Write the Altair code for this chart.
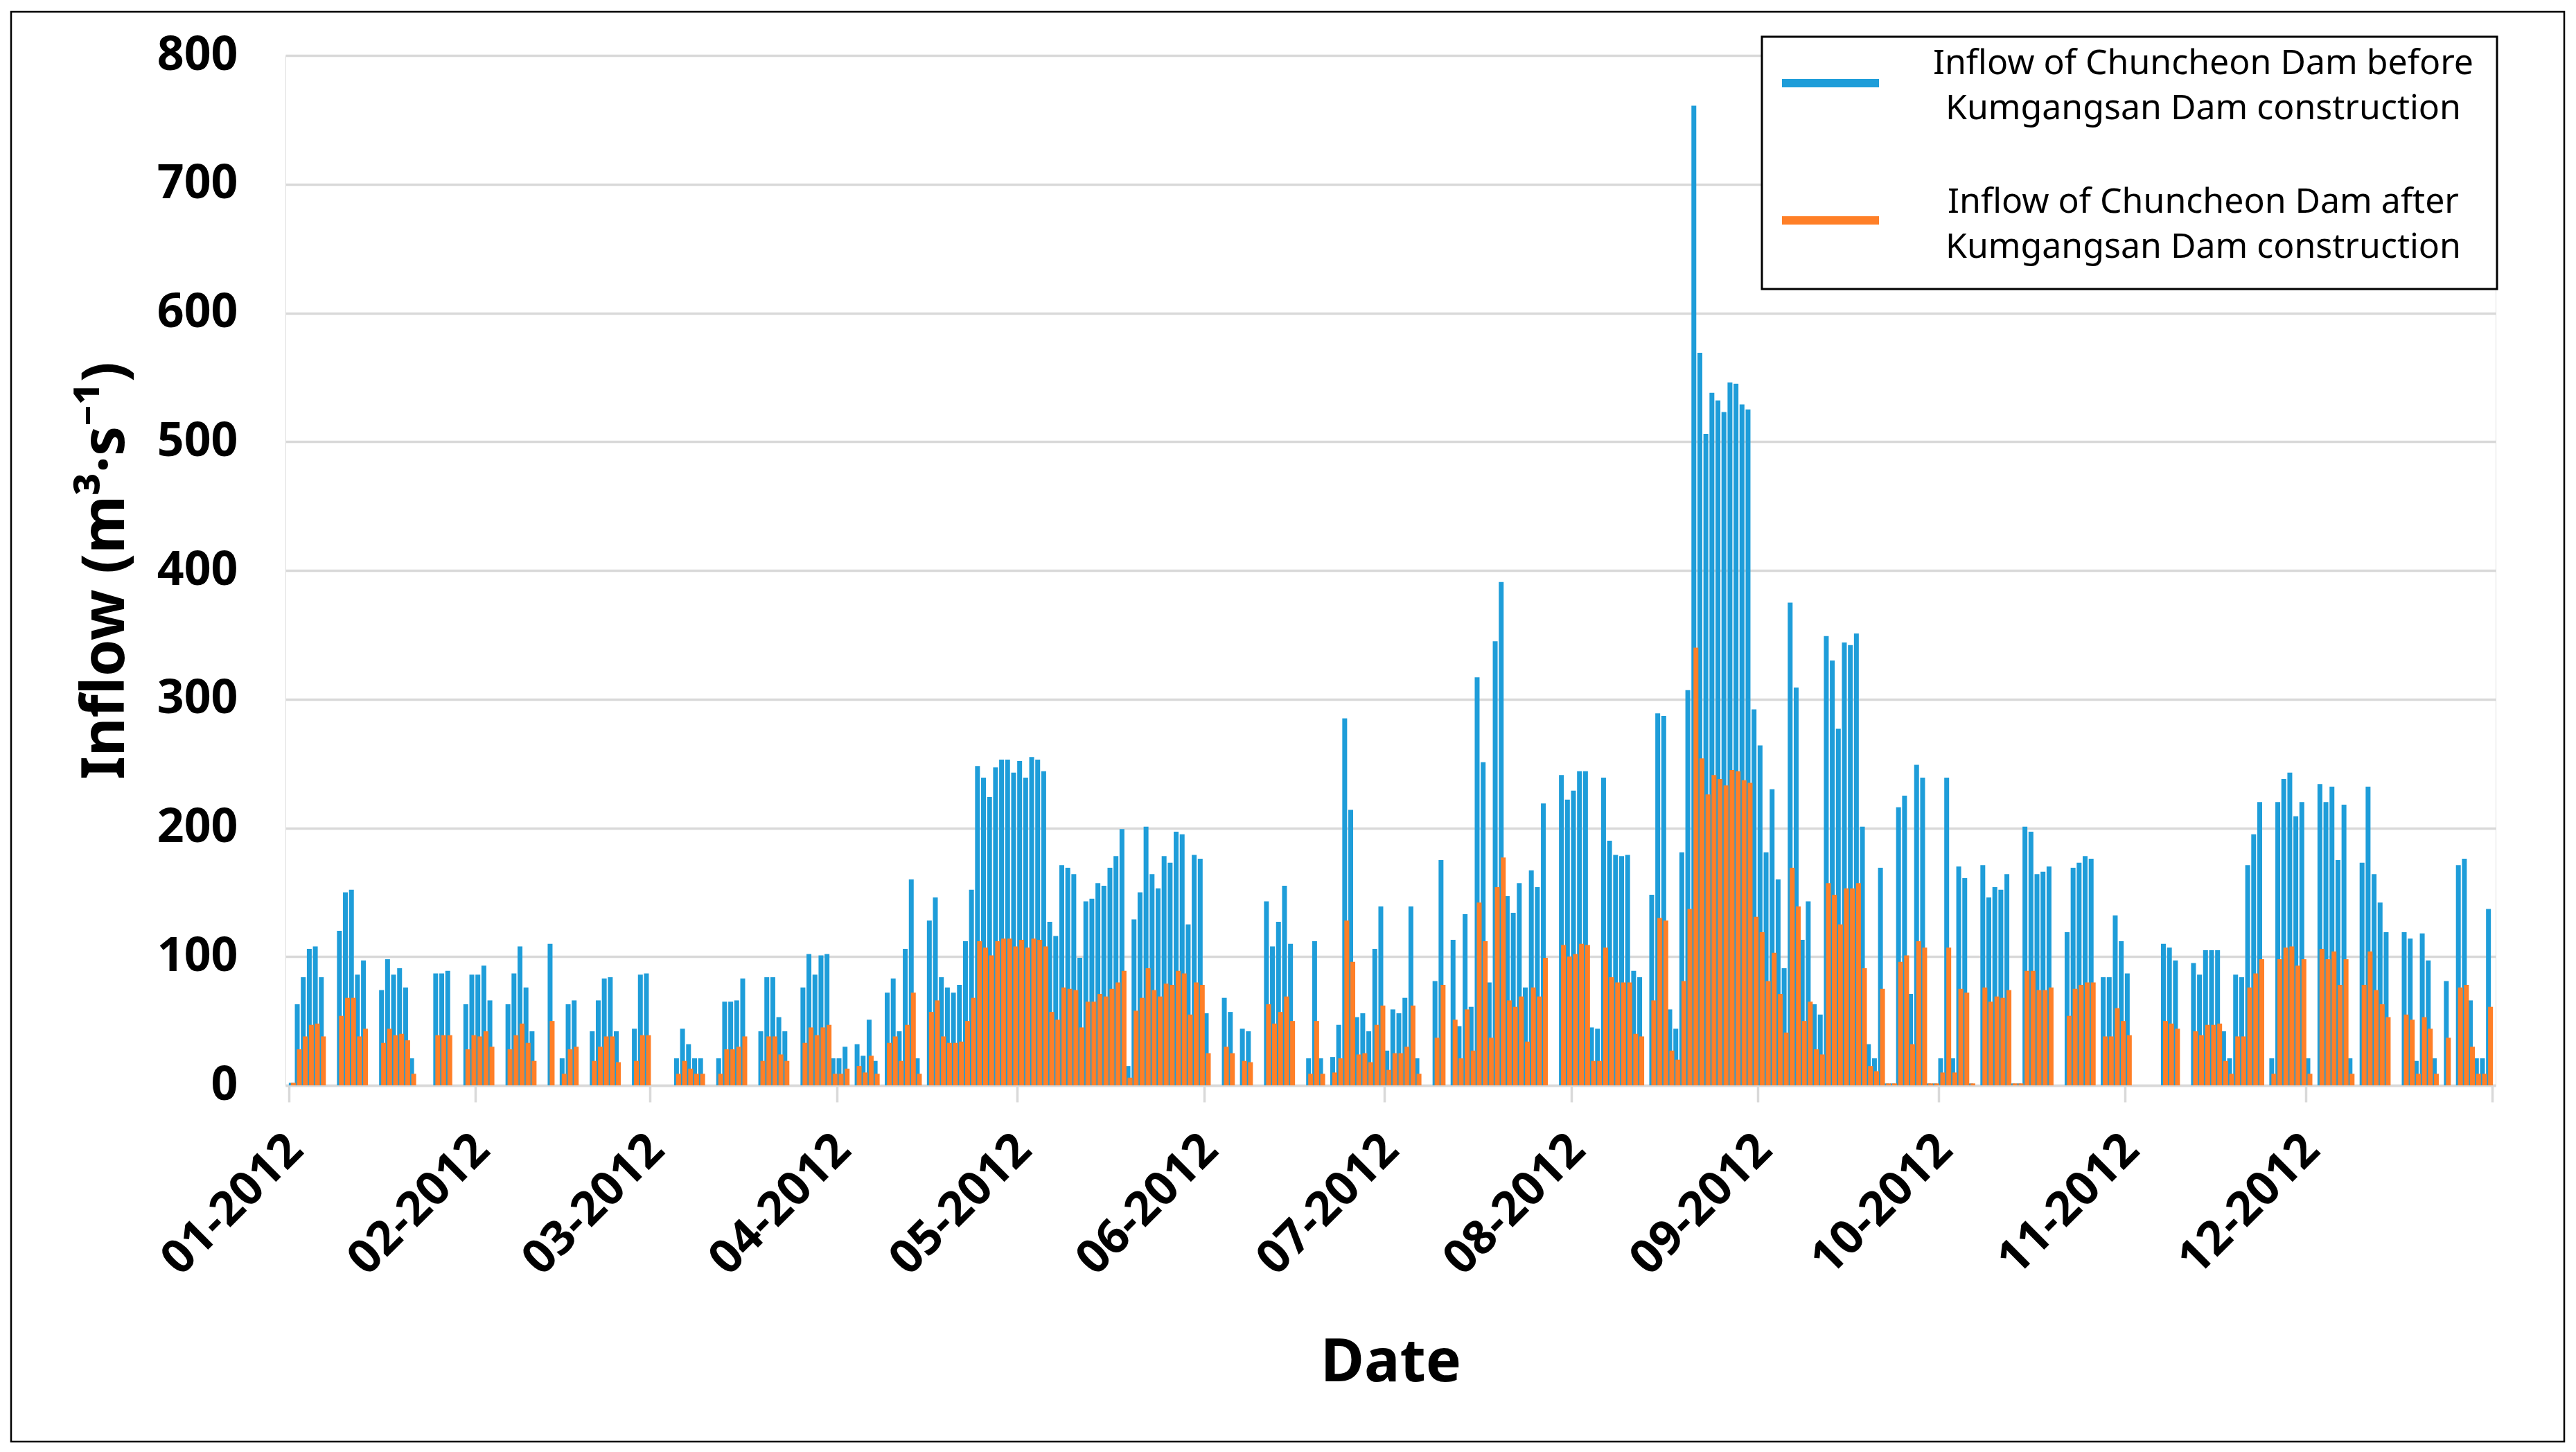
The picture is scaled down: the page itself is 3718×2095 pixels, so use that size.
import altair as alt
import pandas as pd

N = None
# Daily inflow (m3/s), 2012, before Kumgangsan Dam construction (blue)
blue_jan = [2, 63, 84, 106, 108, 84, N, N, 120, 150, 152, 86, 97, N, N, 74, 98, 86, 91, 76, 21, N, N, N, 87, 87, 89, N, N, 63, 86]
blue_feb = [86, 93, 66, N, N, 63, 87, 108, 76, 42, N, N, 110, N, 21, 63, 66, N, N, 42, 66, 83, 84, 42, N, N, 44, 86, 87]
blue_mar = [N, N, N, N, 21, 44, 32, 21, 21, N, N, 21, 65, 65, 66, 83, N, N, 42, 84, 84, 53, 42, N, N, 76, 102, 86, 101, 102, 21]
blue_apr = [21, 30, N, 32, 23, 51, 19, N, 72, 83, 42, 106, 160, 21, N, 128, 146, 84, 76, 72, 78, 112, 152, 248, 239, 224, 247, 253, 253, 243]
blue_may = [252, 239, 255, 253, 244, 127, 116, 171, 169, 164, 99, 143, 145, 157, 155, 169, 178, 199, 15, 129, 150, 201, 164, 153, 178, 173, 197, 195, 125, 179, 176]
blue_jun = [56, N, N, 68, 57, N, 44, 42, N, N, 143, 108, 127, 155, 110, N, N, 21, 112, 21, N, 22, 47, 285, 214, 53, 56, 42, 106, 139]
blue_jul = [27, 59, 56, 68, 139, 21, N, N, 81, 175, N, 113, 46, 133, 61, 317, 251, 80, 345, 391, 147, 134, 157, 76, 167, 154, 219, N, N, 241, 222]
blue_aug = [229, 244, 244, 45, 44, 239, 190, 179, 178, 179, 89, 84, N, 148, 289, 287, 59, 44, 181, 307, 761, 569, 506, 538, 532, 523, 546, 545, 529, 525, 292]
blue_sep = [264, 181, 230, 160, 91, 375, 309, 113, 143, 63, 55, 349, 330, 277, 344, 342, 351, 201, 32, 21, 169, 1.5, 1.5, 216, 225, 71, 249, 239, 1.5, 1.5]
blue_oct = [21, 239, 21, 170, 161, 1.5, N, 171, 146, 154, 152, 164, 1.5, 1.5, 201, 197, 164, 166, 170, N, N, 119, 169, 173, 178, 176, N, 84, 84, 132, 112]
blue_nov = [87, N, N, N, N, N, 110, 107, 97, N, N, 95, 86, 105, 105, 105, 42, 21, 86, 84, 171, 195, 220, N, 21, 220, 238, 243, 209, 220]
blue_dec = [21, N, 234, 220, 232, 175, 218, 21, N, 173, 232, 164, 142, 119, N, N, 119, 114, 19, 118, 97, 21, N, 81, N, 171, 176, 66, 21, 21, 137]

# Daily inflow (m3/s), 2012, after Kumgangsan Dam construction (orange)
orange_jan = [2, 28, 38, 47, 48, 38, N, N, 54, 68, 68, 38, 44, N, N, 33, 44, 39, 40, 35, 9, N, N, N, 39, 39, 39, N, N, 28, 39]
orange_feb = [38, 42, 30, N, N, 28, 39, 48, 33, 19, N, N, 50, N, 9, 28, 30, N, N, 19, 30, 38, 38, 18, N, N, 19, 39, 39]
orange_mar = [N, N, N, N, 9, 19, 13, 9, 9, N, N, 9, 28, 28, 30, 38, N, N, 19, 38, 38, 24, 19, N, N, 33, 45, 39, 45, 47, 9]
orange_apr = [9, 13, N, 15, 10, 23, 9, N, 33, 38, 19, 47, 72, 9, N, 57, 66, 38, 33, 33, 34, 50, 68, 112, 107, 101, 112, 114, 114, 108]
orange_may = [113, 107, 114, 113, 108, 57, 51, 76, 75, 74, 45, 65, 65, 71, 69, 75, 80, 89, 6, 58, 68, 91, 74, 69, 79, 78, 89, 87, 55, 80, 78]
orange_jun = [25, N, N, 30, 25, N, 19, 18, N, N, 63, 48, 57, 69, 50, N, N, 9, 50, 9, N, 10, 21, 128, 96, 24, 25, 18, 47, 62]
orange_jul = [12, 25, 25, 30, 62, 9, N, N, 37, 78, N, 51, 21, 59, 27, 142, 112, 37, 154, 177, 66, 61, 69, 34, 76, 69, 99, N, N, 109, 100]
orange_aug = [102, 110, 109, 19, 19, 107, 84, 80, 80, 80, 40, 38, N, 66, 130, 128, 27, 20, 81, 137, 340, 254, 226, 241, 238, 233, 245, 244, 237, 235, 131]
orange_sep = [119, 81, 103, 71, 41, 169, 139, 50, 65, 28, 24, 157, 148, 125, 153, 153, 157, 91, 15, 11, 75, 1.5, 1.5, 96, 101, 32, 112, 107, 1.5, 1.5]
orange_oct = [10, 107, 10, 75, 72, 1.5, N, 76, 65, 69, 68, 74, 1.5, 1.5, 89, 89, 74, 74, 76, N, N, 54, 75, 78, 80, 80, N, 38, 38, 60, 50]
orange_nov = [39, N, N, N, N, N, 50, 48, 44, N, N, 42, 39, 47, 47, 48, 19, 9, 38, 38, 76, 87, 98, N, 9, 98, 107, 108, 93, 98]
orange_dec = [9, N, 106, 98, 104, 78, 98, 9, N, 78, 104, 74, 63, 53, N, N, 55, 51, 9, 53, 44, 9, N, 37, N, 76, 78, 30, 9, 9, 61]

month_labels = ["01-2012", "02-2012", "03-2012", "04-2012", "05-2012", "06-2012",
                "07-2012", "08-2012", "09-2012", "10-2012", "11-2012", "12-2012", ""]
month_starts = [0, 31, 60, 91, 121, 152, 182, 213, 244, 274, 305, 335, 366]
y_ticks = [0, 100, 200, 300, 400, 500, 600, 700, 800]

series_before = "Inflow of Chuncheon Dam before\nKumgangsan Dam construction"
series_after = "Inflow of Chuncheon Dam after\nKumgangsan Dam construction"

BLUE = "#1E9DD9"
ORANGE = "#FF7F27"
GRID = "#D9D9D9"
FONT = "Noto Sans"

blue = (blue_jan + blue_feb + blue_mar + blue_apr + blue_may + blue_jun +
        blue_jul + blue_aug + blue_sep + blue_oct + blue_nov + blue_dec)
orange = (orange_jan + orange_feb + orange_mar + orange_apr + orange_may + orange_jun +
          orange_jul + orange_aug + orange_sep + orange_oct + orange_nov + orange_dec)

df = pd.DataFrame({"day": list(range(len(blue))), "blue": blue, "orange": orange})
df["pos"] = df["day"] + 0.5

label_expr = "{}[indexof({}, datum.value)]".format(
    "[" + ",".join("'" + s + "'" for s in month_labels) + "]",
    "[" + ",".join(str(v) for v in month_starts) + "]")

x_enc = alt.X(
    "pos:Q",
    scale=alt.Scale(domain=[0, 366], nice=False, zero=False),
    axis=alt.Axis(
        values=month_starts, labelExpr=label_expr, labelAngle=315,
        labelAlign="right", labelBaseline="middle", labelPadding=58,
        labelOffset=9, labelOverlap=False, labelBound=False, labelFlush=False,
        labelLimit=0, labelFont=FONT, labelFontSize=68, labelFontWeight="bold",
        labelColor="black",
        grid=False, domain=True, domainColor=GRID, domainWidth=3.5,
        ticks=True, tickColor=GRID, tickWidth=3.5, tickSize=24,
        title="Date", titleFont=FONT, titleFontSize=86, titleFontWeight="bold",
        titleColor="black", titleBaseline="alphabetic", titleY=426, titleX=1595,
        titleAlign="center", titleLimit=0,
    ),
)

def y_enc(field):
    return alt.Y(
        field + ":Q",
        scale=alt.Scale(domain=[0, 800], nice=False),
        axis=alt.Axis(
            values=y_ticks, labelFont=FONT, labelFontSize=68, labelFontWeight="bold",
            labelColor="black", labelPadding=69, ticks=False, domain=False,
            grid=True, gridColor=GRID, gridWidth=3.5,
            title="Inflow (m³·s⁻¹)", titleFont=FONT, titleFontSize=86,
            titleFontWeight="bold", titleColor="black", titleAngle=270,
            titleBaseline="alphabetic", titleX=-234, titleY=743, titleAlign="center",
            titleLimit=0,
        ),
    )

bars_before = alt.Chart(df).transform_filter("isValid(datum.blue)").mark_bar(
    width=7, xOffset=-1, color=BLUE
).encode(x=x_enc, y=y_enc("blue"))

bars_after = alt.Chart(df).transform_filter("isValid(datum.orange)").mark_bar(
    width=7, xOffset=2, color=ORANGE
).encode(x=x_enc, y=y_enc("orange"))

one = pd.DataFrame({"k": [0]})

frame = alt.Chart(one).mark_rect(fill="transparent", stroke="black", strokeWidth=2.5, clip=False).encode(
    x=alt.value(-396), x2=alt.value(3289), y=alt.value(-63), y2=alt.value(2000))

legend_box = alt.Chart(one).mark_rect(fill="white", stroke="black", strokeWidth=3, clip=False).encode(
    x=alt.value(2131), x2=alt.value(3192), y=alt.value(-27), y2=alt.value(337))

legend_line_before = alt.Chart(one).mark_rule(color=BLUE, strokeWidth=12, clip=False).encode(
    x=alt.value(2160), x2=alt.value(2300), y=alt.value(40))
legend_line_after = alt.Chart(one).mark_rule(color=ORANGE, strokeWidth=12, clip=False).encode(
    x=alt.value(2160), x2=alt.value(2300), y=alt.value(238))

legend_text_before = alt.Chart(one).mark_text(
    text=series_before, lineBreak="\n", align="center", baseline="alphabetic",
    font=FONT, fontSize=50, lineHeight=65, color="black", clip=False
).encode(x=alt.value(2768), y=alt.value(27))
legend_text_after = alt.Chart(one).mark_text(
    text=series_after, lineBreak="\n", align="center", baseline="alphabetic",
    font=FONT, fontSize=50, lineHeight=65, color="black", clip=False
).encode(x=alt.value(2768), y=alt.value(227))

chart = alt.layer(
    frame, bars_before, bars_after, legend_box,
    legend_line_before, legend_line_after, legend_text_before, legend_text_after
).properties(
    width=3190, height=1486,
    autosize=alt.AutoSizeParams(type="none"),
    padding={"left": 404, "top": 72, "right": 101, "bottom": 516},
).configure_view(stroke=None).configure(background="white")

chart.save("out.html", embed_options={"renderer": "svg", "actions": False})
